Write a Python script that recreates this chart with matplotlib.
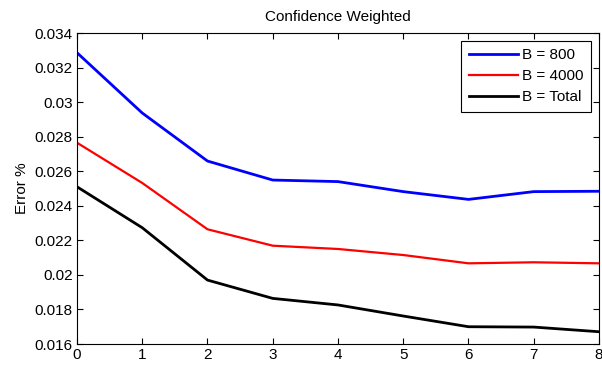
import matplotlib
matplotlib.use("Agg")
import matplotlib.pyplot as plt

x = [0, 1, 2, 3, 4, 5, 6, 7, 8]
b800 = [0.03286, 0.02937, 0.02659, 0.02549, 0.02540, 0.02482, 0.02437, 0.02482, 0.02484]
b4000 = [0.02765, 0.02532, 0.02264, 0.02169, 0.02150, 0.02115, 0.02067, 0.02073, 0.02067]
btotal = [0.02510, 0.02273, 0.01970, 0.01864, 0.01826, 0.01762, 0.01700, 0.01698, 0.01671]
labels = ["B = 800", "B = 4000", "B = Total"]
xticks = [0, 1, 2, 3, 4, 5, 6, 7, 8]
yticks = [0.016, 0.018, 0.02, 0.022, 0.024, 0.026, 0.028, 0.03, 0.032, 0.034]
ytick_labels = ["0.016", "0.018", "0.02", "0.022", "0.024", "0.026", "0.028", "0.03", "0.032", "0.034"]

plt.rcParams['font.family'] = ['Liberation Sans', 'DejaVu Sans']
fig = plt.figure(figsize=(6.02, 3.66), dpi=100)
ax = fig.add_axes([0.1279, 0.0601, 0.8671, 0.8497])
ax.plot(x, b800, color='#0000ff', lw=2.0, label=labels[0])
ax.plot(x, b4000, color='#ff0000', lw=1.6, label=labels[1])
ax.plot(x, btotal, color='#000000', lw=2.0, label=labels[2])
ax.set_xlim(0, 8)
ax.set_ylim(0.016, 0.034)
ax.set_xticks(xticks)
ax.set_yticks(yticks)
ax.set_yticklabels(ytick_labels)
ax.tick_params(direction='in', top=True, right=True, labelsize=11, length=4, width=0.8, pad=3)
for s in ax.spines.values():
    s.set_linewidth(0.8)
ax.set_title("Confidence Weighted", fontsize=11, pad=9)
ax.set_ylabel("Error %", fontsize=11, labelpad=4)
leg = ax.legend(loc='upper right', fontsize=11, frameon=True, fancybox=False,
                edgecolor='black', framealpha=1, borderpad=0.5, labelspacing=0.45,
                handlelength=3.2, handletextpad=0.3, borderaxespad=0.5)
leg.get_frame().set_linewidth(0.8)
fig.savefig("out.png", dpi=100)
